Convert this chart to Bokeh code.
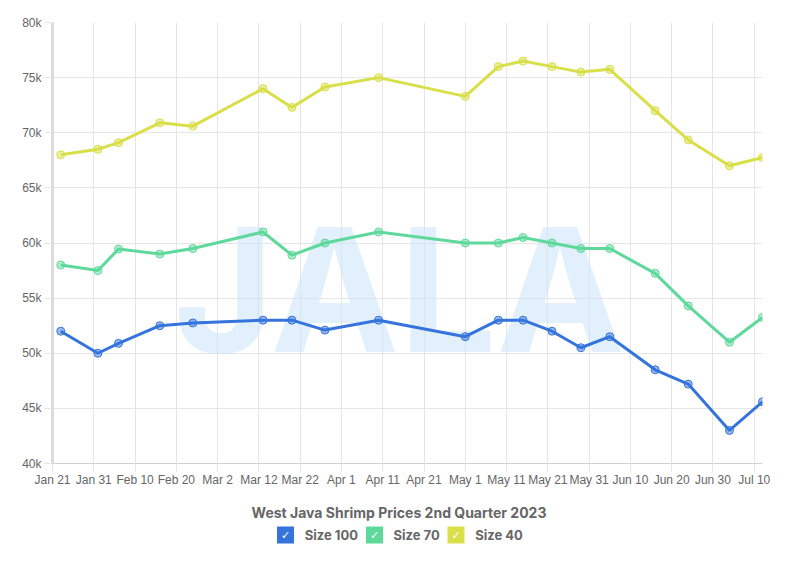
import pandas as pd
from bokeh.plotting import figure
from bokeh.models import FixedTicker, NumeralTickFormatter, Label, Range1d
from bokeh.layouts import column
from bokeh.embed import file_html
from bokeh.resources import INLINE
from bokeh.core.properties import value

# ---- data ----
dates = ["2023-01-23", "2023-02-01", "2023-02-06", "2023-02-16", "2023-02-24",
         "2023-03-13", "2023-03-20", "2023-03-28", "2023-04-10", "2023-05-01",
         "2023-05-09", "2023-05-15", "2023-05-22", "2023-05-29", "2023-06-05",
         "2023-06-16", "2023-06-24", "2023-07-04", "2023-07-12"]
size100 = [52000, 50000, 50900, 52500, 52750, 53000, 53000, 52100, 53000, 51500,
           53000, 53000, 52000, 50500, 51500, 48500, 47200, 43000, 45600]
size70 = [58000, 57500, 59450, 59000, 59500, 61000, 58900, 60000, 61000, 60000,
          60000, 60500, 60000, 59500, 59500, 57250, 54300, 51000, 53250]
size40 = [68000, 68500, 69100, 70900, 70600, 74000, 72300, 74150, 75000, 73300,
          76000, 76500, 76000, 75500, 75750, 72000, 69350, 67000, 67750]
series_names = ["Size 100", "Size 70", "Size 40"]
colors = ["#3574dc", "#5fd99b", "#d9df49"]

tick_dates = ["2023-01-21", "2023-01-31", "2023-02-10", "2023-02-20", "2023-03-02",
              "2023-03-12", "2023-03-22", "2023-04-01", "2023-04-11", "2023-04-21",
              "2023-05-01", "2023-05-11", "2023-05-21", "2023-05-31", "2023-06-10",
              "2023-06-20", "2023-06-30", "2023-07-10"]
tick_labels = ["Jan 21", "Jan 31", "Feb 10", "Feb 20", "Mar 2", "Mar 12", "Mar 22",
               "Apr 1", "Apr 11", "Apr 21", "May 1", "May 11", "May 21", "May 31",
               "Jun 10", "Jun 20", "Jun 30", "Jul 10"]
y_ticks = [40000, 45000, 50000, 55000, 60000, 65000, 70000, 75000, 80000]
title_text = "West Java Shrimp Prices 2nd Quarter 2023"


def ms(s):
    return float(pd.Timestamp(s).value // 10**6)


x = [ms(d) for d in dates]
xt = [ms(d) for d in tick_dates]

W = 803
H1 = 500
H2 = 65
BL, BR = 52, 41
GRID = "#e6e6e6"
LABEL = "#666666"

p = figure(width=W, height=H1, output_backend="svg", toolbar_location=None,
           x_range=Range1d(ms("2023-01-21"), ms("2023-07-12")),
           y_range=Range1d(40000, 80000),
           min_border_left=BL, min_border_right=BR, min_border_top=22,
           min_border_bottom=37)
p.outline_line_color = None
p.background_fill_color = "white"
p.border_fill_color = "white"

# watermark
wm = Label(x=ms("2023-04-15"), y=55800, text="JALA", text_font="Inter",
           text_font_size="172px", text_font_style="bold", text_color="#c9e3fa",
           text_alpha=0.55, text_align="center", text_baseline="alphabetic",
           level="underlay")
p.add_layout(wm)

# axes
p.xaxis.ticker = FixedTicker(ticks=xt)
p.xaxis.major_label_overrides = {t: l for t, l in zip(xt, tick_labels)}
p.yaxis.ticker = FixedTicker(ticks=y_ticks)
p.yaxis.formatter = NumeralTickFormatter(format="0a")
for ax in (p.xaxis, p.yaxis):
    ax.minor_tick_line_color = None
    ax.major_tick_in = 0
    ax.major_tick_out = 8
    ax.major_tick_line_color = GRID
    ax.major_label_text_font = "Liberation Sans"
    ax.major_label_text_font_size = "12px"
    ax.major_label_text_color = LABEL
p.xaxis.major_label_standoff = 1
p.yaxis.major_label_standoff = 3
p.xaxis.axis_line_color = "#d0d0d0"
p.yaxis.axis_line_color = "#dcdcdc"
p.yaxis.axis_line_width = 3
p.xgrid.grid_line_color = GRID
p.ygrid.grid_line_color = GRID

for vals, c in zip([size40, size70, size100], [colors[2], colors[1], colors[0]]):
    p.line(x, vals, line_width=3, line_color=c)
    p.scatter(x, vals, size=8, fill_color=c, fill_alpha=0.5, line_color=c,
              line_width=1)

# ---- title + legend panel (page-pixel coordinates) ----
q = figure(width=W, height=H2, output_backend="svg", toolbar_location=None,
           x_range=Range1d(BL, W - BR), y_range=Range1d(0, H2),
           x_axis_location=None, y_axis_location=None, min_border=0,
           min_border_left=BL, min_border_right=BR)
q.outline_line_color = None
q.grid.visible = False

q.text(x=[398.5], y=[53.3], text=[title_text], text_font=value("Inter"),
       text_font_size="14px", text_font_style="bold", text_color=LABEL,
       text_align="center", text_baseline="middle")

box_x = [285, 374, 455.5]
text_x = [304.3, 393, 474.7]
row_y = 30.5
q.rect(x=box_x, y=[row_y] * 3, width=17, height=17, fill_color=colors,
       line_color=None)
q.text(x=box_x, y=[row_y] * 3, text=["\u2713"] * 3, text_color="white",
       text_font=value("DejaVu Sans"), text_font_size="11px",
       text_align="center", text_baseline="middle")
q.text(x=text_x, y=[row_y] * 3, text=series_names, text_font=value("Inter"),
       text_font_size="13px", text_font_style="bold", text_color=LABEL,
       text_align="left", text_baseline="middle")

layout = column(p, q)
open("out.html", "w").write(file_html(layout, INLINE))
